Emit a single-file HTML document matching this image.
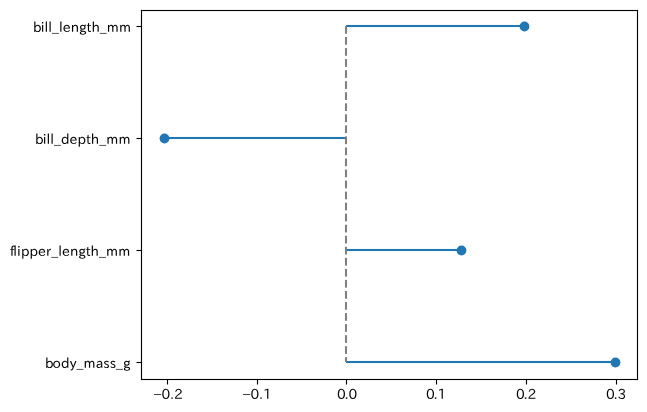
<!DOCTYPE html>
<html lang="en">
<head>
<meta charset="utf-8">
<title>Stem plot</title>
<style>
  html, body { margin: 0; padding: 0; background: #ffffff; }
  body { width: 647px; height: 412px; overflow: hidden; }
  svg { display: block; }
  text {
    font-family: "IPAPGothic", "Liberation Sans", sans-serif;
    font-size: 13.889px;
    fill: #000000;
  }
</style>
</head>
<body>
<svg width="647" height="412" viewBox="0 0 647 412">
  <rect x="0" y="0" width="647" height="412" fill="#ffffff"/>

  <!-- stems -->
  <g fill="#1f77b4">
    <rect x="346" y="24.959" width="178.5" height="2.083"/>
    <rect x="164.5" y="136.958" width="181.5" height="2.083"/>
    <rect x="346" y="248.958" width="115.5" height="2.083"/>
    <rect x="346" y="360.959" width="269.5" height="2.083"/>
  </g>

  <!-- dashed zero line -->
  <g fill="#808080">
    <rect x="344.959" y="26" width="2.083" height="7.708"/>
    <rect x="344.959" y="37.041" width="2.083" height="7.708"/>
    <rect x="344.959" y="48.082" width="2.083" height="7.708"/>
    <rect x="344.959" y="59.123" width="2.083" height="7.708"/>
    <rect x="344.959" y="70.164" width="2.083" height="7.708"/>
    <rect x="344.959" y="81.205" width="2.083" height="7.708"/>
    <rect x="344.959" y="92.246" width="2.083" height="7.708"/>
    <rect x="344.959" y="103.287" width="2.083" height="7.708"/>
    <rect x="344.959" y="114.328" width="2.083" height="7.708"/>
    <rect x="344.959" y="125.369" width="2.083" height="7.708"/>
    <rect x="344.959" y="136.41" width="2.083" height="7.708"/>
    <rect x="344.959" y="147.451" width="2.083" height="7.708"/>
    <rect x="344.959" y="158.492" width="2.083" height="7.708"/>
    <rect x="344.959" y="169.533" width="2.083" height="7.708"/>
    <rect x="344.959" y="180.574" width="2.083" height="7.708"/>
    <rect x="344.959" y="191.615" width="2.083" height="7.708"/>
    <rect x="344.959" y="202.656" width="2.083" height="7.708"/>
    <rect x="344.959" y="213.697" width="2.083" height="7.708"/>
    <rect x="344.959" y="224.738" width="2.083" height="7.708"/>
    <rect x="344.959" y="235.779" width="2.083" height="7.708"/>
    <rect x="344.959" y="246.82" width="2.083" height="7.708"/>
    <rect x="344.959" y="257.861" width="2.083" height="7.708"/>
    <rect x="344.959" y="268.902" width="2.083" height="7.708"/>
    <rect x="344.959" y="279.943" width="2.083" height="7.708"/>
    <rect x="344.959" y="290.984" width="2.083" height="7.708"/>
    <rect x="344.959" y="302.025" width="2.083" height="7.708"/>
    <rect x="344.959" y="313.066" width="2.083" height="7.708"/>
    <rect x="344.959" y="324.107" width="2.083" height="7.708"/>
    <rect x="344.959" y="335.148" width="2.083" height="7.708"/>
    <rect x="344.959" y="346.189" width="2.083" height="7.708"/>
    <rect x="344.959" y="357.23" width="2.083" height="4.77"/>
  </g>

  <!-- markers -->
  <g fill="#1f77b4">
    <circle cx="524.5" cy="26.5" r="4.89"/>
    <circle cx="164.5" cy="138.5" r="4.89"/>
    <circle cx="461.5" cy="250.5" r="4.89"/>
    <circle cx="615.5" cy="362.5" r="4.89"/>
  </g>

  <!-- ticks -->
  <g fill="#000000">
    <rect x="166.945" y="379.5" width="1.111" height="5"/>
    <rect x="256.945" y="379.5" width="1.111" height="5"/>
    <rect x="345.945" y="379.5" width="1.111" height="5"/>
    <rect x="435.945" y="379.5" width="1.111" height="5"/>
    <rect x="525.944" y="379.5" width="1.111" height="5"/>
    <rect x="615.944" y="379.5" width="1.111" height="5"/>
    <rect x="136.5" y="25.945" width="5" height="1.111"/>
    <rect x="136.5" y="137.945" width="5" height="1.111"/>
    <rect x="136.5" y="249.945" width="5" height="1.111"/>
    <rect x="136.5" y="361.945" width="5" height="1.111"/>
  </g>

  <!-- axes frame -->
  <g fill="#000000">
    <rect x="140.945" y="9.944" width="1.111" height="370.111"/>
    <rect x="636.944" y="9.944" width="1.111" height="370.111"/>
    <rect x="140.945" y="378.945" width="497.111" height="1.111"/>
    <rect x="140.945" y="9.944" width="497.111" height="1.111"/>
  </g>

  <!-- y tick labels -->
  <text x="33 40.625 44.5 48.25 52 59 62.75 70.625 79 86.375 91.375 99.75 106.75 119" y="32">bill_length_mm</text>
  <text x="35 42.625 46.5 50.25 54 61 69.375 77.5 85.875 90.625 99.25 106.25 118.5" y="144">bill_depth_mm</text>
  <text x="10 13.25 17 20.875 29.5 37.875 46 51.25 58.25 62 69.875 78.25 85.625 90.375 99 106 118.25" y="256">flipper_length_mm</text>
  <text x="45 52.375 61 69.625 76.5 83.5 95.75 103.125 109.75 115.875 122.875" y="368">body_mass_g</text>

  <!-- x tick labels -->
  <text x="153.25 161.5 170.25 174" y="399">−0.2</text>
  <text x="242.25 250.5 259.25 263" y="399">−0.1</text>
  <text x="336.9 344.65 348.4" y="399">0.0</text>
  <text x="425.9 433.65 437.4" y="399">0.1</text>
  <text x="515.9 523.65 527.4" y="399">0.2</text>
  <text x="605.9 613.65 617.4" y="399">0.3</text>
</svg>
</body>
</html>
